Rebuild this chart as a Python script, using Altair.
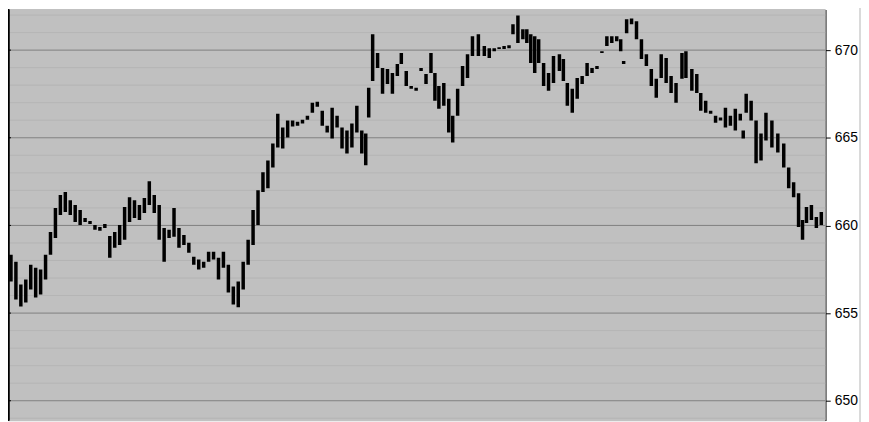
import altair as alt
import pandas as pd

# bar positions (time axis) and high / low prices
t = [7,12,17,22,27,32,37,42,47,52,57,62,67,72,77,82,87,92,97,102,107,112,117,122,127,132,137,142,147,152,157,162,167,172,177,182,187,192,197,202,207,212,217,222,227,232,237,242,247,252,257,262,267,272,277,282,287,292,297,302,307,312,317,322,327,332,337,342,347,352,357,362,366,369,373,378,383,388,393,398,402,407,412,417,422,427,432,436,440,445,450,454,459,464,469,474,480,486,491,496,501,506,511,515,520,525,529,533,537,541,546,551,556,562,566,570,575,580,585,590,595,600,605,610,615,620,624,627,630,635,640,645,650,655,660,665,670,675,680,686,690,696,701,705,710,715,720,725,730,735,740,745,748,751,756,761,766,771,777,783,789,794,799,804,808,812,817,822,827]
high = [658.33,657.93,656.63,656.91,657.76,657.59,657.48,658.33,659.63,660.99,661.73,661.90,661.44,661.16,660.88,660.42,660.25,660.03,659.91,660.08,659.40,659.63,660.03,661.05,661.61,661.44,661.16,661.56,662.52,661.73,661.16,659.86,659.75,660.99,659.86,659.46,659.01,658.21,658.05,657.93,658.50,658.50,658.16,658.50,657.76,656.51,656.80,657.93,659.18,660.88,662.01,663.03,663.71,664.67,666.37,665.58,665.98,665.98,665.92,666.03,666.26,667.00,667.05,666.54,665.69,666.71,666.26,665.58,665.41,665.81,666.83,665.41,665.24,667.85,670.91,669.83,668.98,668.92,668.70,669.21,669.83,668.81,667.96,667.85,668.98,668.64,669.83,668.70,667.96,668.13,667.22,666.26,667.79,669.09,669.77,670.79,670.91,670.23,670.11,670.11,670.17,670.23,670.28,671.47,671.98,671.19,671.19,670.91,670.79,670.62,669.26,668.70,669.66,669.77,669.49,668.13,667.79,668.41,668.53,669.26,668.98,669.09,669.94,670.79,670.79,670.79,670.62,669.38,671.76,671.81,671.64,670.62,669.77,668.92,668.36,669.77,669.55,668.53,668.13,669.83,669.94,668.92,668.64,667.56,667.11,666.54,666.26,666.15,666.71,666.26,666.66,666.37,665.41,667.51,667.11,665.98,665.24,666.43,665.98,665.24,664.67,663.31,662.46,661.84,660.31,661.05,661.16,660.48,660.76]
low = [656.80,655.78,655.38,655.61,656.35,655.89,656.06,656.91,658.33,659.29,660.59,660.76,660.59,660.20,660.03,660.20,660.08,659.75,659.69,659.86,658.16,658.72,658.89,659.18,660.20,660.42,660.31,660.71,661.16,660.71,659.18,657.93,659.29,659.35,658.72,658.89,658.44,657.76,657.48,657.59,657.93,658.05,656.91,657.59,656.17,655.49,655.33,656.35,657.76,658.89,660.03,661.90,662.12,663.31,664.45,664.39,665.01,665.64,665.69,665.81,666.03,666.43,666.77,665.69,665.30,664.96,665.58,664.39,664.11,664.45,665.30,664.11,663.43,666.15,668.24,668.98,667.51,668.07,667.51,668.53,669.21,667.96,667.79,667.68,668.81,668.07,668.70,667.11,666.66,666.83,665.30,664.73,666.26,667.96,668.41,669.66,669.66,669.66,669.55,669.94,670.06,670.06,670.11,670.91,670.40,670.62,670.40,669.26,668.70,669.26,667.96,667.68,668.13,668.81,668.24,666.83,666.43,667.22,668.07,668.53,668.70,668.92,669.83,670.23,670.40,670.51,669.94,669.21,670.96,671.47,670.62,669.49,669.09,667.96,667.28,668.41,668.13,667.56,667.00,668.36,668.41,667.68,667.56,666.54,666.43,666.37,665.86,665.98,665.58,665.69,665.41,665.98,664.96,666.43,665.98,663.54,663.71,664.84,664.45,664.16,663.31,662.12,661.61,659.91,659.18,660.14,660.31,659.86,660.03]

major_levels = [650, 655, 660, 665, 670]
minor_levels = [649, 651, 652, 653, 654, 656, 657, 658, 659, 661, 662, 663, 664, 666, 667, 668, 669, 671, 672]

W, H = 823, 414
x_scale = alt.Scale(domain=[4, 831], nice=False, zero=False)
y_scale = alt.Scale(domain=[648.87, 672.32], nice=False, zero=False)

y_axis = alt.Axis(orient="right", values=major_levels, grid=False,
                  domainColor="black", domainWidth=1.5, tickColor="black",
                  tickSize=5, labelPadding=4, labelFontSize=14,
                  labelFont="Liberation Sans", labelColor="black", title=None)

bars = pd.DataFrame({"t": t, "high": high, "low": low})
minor_df = pd.DataFrame({"level": minor_levels})
major_df = pd.DataFrame({"level": major_levels})

bg = alt.Chart(major_df).mark_rect(color="#c0c0c0").encode(
    x=alt.value(0), x2=alt.value(W), y=alt.value(0), y2=alt.value(H)
)
minor = alt.Chart(minor_df).mark_rule(color="#b4b4b4", strokeWidth=1).encode(
    y=alt.Y("level:Q", scale=y_scale, axis=y_axis)
)
major = alt.Chart(major_df).mark_rule(color="#808080", strokeWidth=1).encode(
    y=alt.Y("level:Q", scale=y_scale, axis=y_axis)
)
left_ticks = alt.Chart(major_df).mark_rule(color="black", strokeWidth=1).encode(
    y=alt.Y("level:Q", scale=y_scale, axis=y_axis),
    x=alt.value(0), x2=alt.value(3),
)
left_line = alt.Chart(major_df).mark_rule(color="black", strokeWidth=1.5).encode(
    x=alt.value(0.5), y=alt.value(0), y2=alt.value(H)
)
edge_line = alt.Chart(major_df).mark_rule(color="#d9d9d9", strokeWidth=1, clip=False).encode(
    x=alt.value(858), y=alt.value(-8), y2=alt.value(H + 8)
)

candles = alt.Chart(bars).mark_rule(color="black", strokeWidth=3.5, clip=True).encode(
    x=alt.X("t:Q", scale=x_scale, axis=None),
    y=alt.Y("low:Q", scale=y_scale, axis=y_axis),
    y2="high:Q",
)

chart = alt.layer(bg, minor, major, candles, left_line, left_ticks, edge_line).properties(
    width=W, height=H,
    autosize=alt.AutoSizeParams(type="none"),
    padding={"left": 0, "top": 0, "right": 36, "bottom": 0},
).configure_view(stroke=None).configure(background="white")

chart.save("out.html", embed_options={"renderer": "svg", "actions": False})
